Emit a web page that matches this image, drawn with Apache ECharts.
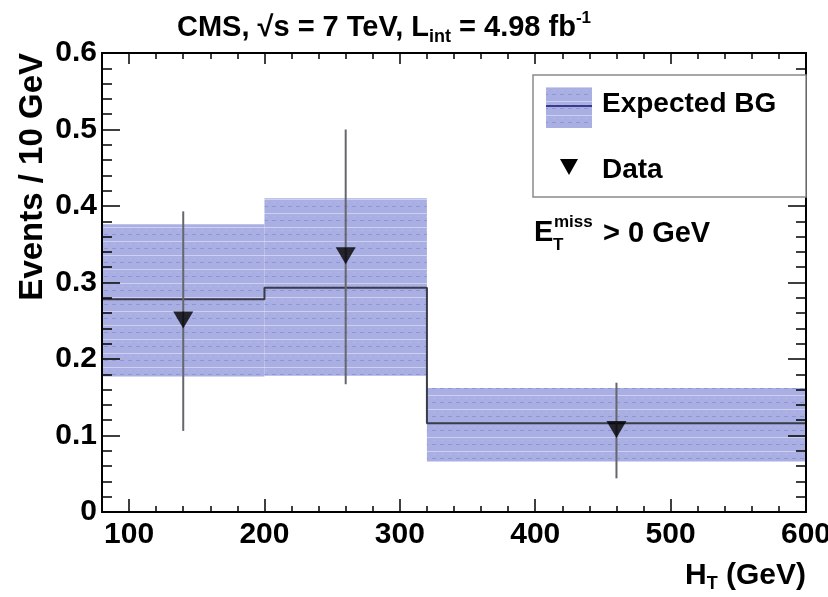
<!DOCTYPE html>
<html>
<head>
<meta charset="utf-8">
<script src="https://cdn.jsdelivr.net/npm/echarts@6/dist/echarts.min.js"></script>
<style>
  html, body { margin: 0; padding: 0; background: #ffffff; }
  #chart { width: 828px; height: 597px; }
</style>
</head>
<body>
<div id="chart"></div>
<script>
// ---- Data ----
const binEdges = [80, 200, 320, 600];
const bgCentral = [0.278, 0.293, 0.116];
const bgUpper = [0.376, 0.410, 0.162];
const bgLower = [0.177, 0.178, 0.066];

const dataX = [140, 260, 460];
const dataY = [0.251, 0.335, 0.108];
const dataErrLow = [0.106, 0.167, 0.044];
const dataErrHigh = [0.393, 0.500, 0.169];

const xTickLabels = [100, 200, 300, 400, 500, 600];
const yTickLabels = [0, 0.1, 0.2, 0.3, 0.4, 0.5, 0.6];

// ---- Styles ----
const FONT = 'Liberation Sans, Arial, Helvetica, sans-serif';

function makePattern() {
  const c = document.createElement('canvas');
  c.width = 8; c.height = 14;
  const g = c.getContext('2d');
  g.fillStyle = '#a9afe2';
  g.fillRect(0, 0, 8, 14);
  g.fillStyle = '#cdd0f0';
  g.fillRect(0, 3, 8, 1);
  g.fillStyle = '#8f96d4';
  g.fillRect(0, 10, 4, 1);
  g.fillStyle = '#bcc0ea';
  g.fillRect(2, 6, 1, 1);
  return c;
}
const patternCanvas = makePattern();
const bandFill = { image: patternCanvas, repeat: 'repeat' };

// ---- Derived series data ----
const bandData = bgCentral.map((c, i) => [binEdges[i], binEdges[i + 1], bgLower[i], bgUpper[i]]);
const centralLine = [];
bgCentral.forEach((c, i) => { centralLine.push([binEdges[i], c]); centralLine.push([binEdges[i + 1], c]); });
const errData = dataX.map((x, i) => [x, dataErrLow[i], dataErrHigh[i]]);
const pointData = dataX.map((x, i) => [x, dataY[i]]);

const axisLineStyle = { color: '#000', width: 2 };
const tickStyle = { color: '#000', width: 1.5 };

function xAxisCfg(position, major, withLabels) {
  return {
    type: 'value', min: 80, max: 600, position: position, z: 10,
    interval: major ? undefined : 20,
    axisLine: { show: true, onZero: false, lineStyle: axisLineStyle },
    axisTick: major
      ? { show: true, inside: true, length: position === 'bottom' ? 13 : 11, customValues: xTickLabels, lineStyle: tickStyle }
      : { show: true, inside: true, length: 6, lineStyle: tickStyle },
    axisLabel: withLabels
      ? { show: true, customValues: xTickLabels, margin: 8, fontFamily: FONT, fontWeight: 'bold', fontSize: 30, color: '#000' }
      : { show: false },
    splitLine: { show: false }
  };
}

const option = {
  animation: false,
  backgroundColor: '#ffffff',
  grid: { left: 102, right: 22, top: 53, bottom: 85, containLabel: false, outerBoundsMode: 'none' },
  xAxis: [
    xAxisCfg('bottom', true, true),
    xAxisCfg('bottom', false, false),
    xAxisCfg('top', true, false),
    xAxisCfg('top', false, false)
  ],
  yAxis: [
    {
      type: 'value', min: 0, max: 0.6, interval: 0.1, position: 'left', z: 10,
      axisLine: { show: true, onZero: false, lineStyle: axisLineStyle },
      axisTick: { show: true, inside: true, length: 18, lineStyle: tickStyle },
      minorTick: { show: true, splitNumber: 5, length: 10, lineStyle: tickStyle },
      axisLabel: {
        show: true, margin: 5, fontFamily: FONT, fontWeight: 'bold', fontSize: 30, color: '#000',
        formatter: v => (v === 0 ? '0' : v.toFixed(1))
      },
      splitLine: { show: false }
    },
    {
      type: 'value', min: 0, max: 0.6, interval: 0.1, position: 'right', z: 10,
      axisLine: { show: true, onZero: false, lineStyle: axisLineStyle },
      axisTick: { show: true, inside: true, length: 18, lineStyle: tickStyle },
      minorTick: { show: true, splitNumber: 5, length: 10, lineStyle: tickStyle },
      axisLabel: { show: false },
      splitLine: { show: false }
    }
  ],
  series: [
    {
      name: 'Expected BG band', type: 'custom', xAxisIndex: 0, yAxisIndex: 0, z: 1,
      data: bandData,
      encode: { x: [0, 1], y: [2, 3] },
      renderItem: function (params, api) {
        const p0 = api.coord([api.value(0), api.value(3)]);
        const p1 = api.coord([api.value(1), api.value(2)]);
        return {
          type: 'rect',
          shape: { x: p0[0], y: p0[1], width: p1[0] - p0[0], height: p1[1] - p0[1] },
          style: { fill: bandFill }
        };
      }
    },
    {
      name: 'Expected BG', type: 'line', xAxisIndex: 0, yAxisIndex: 0, z: 3,
      data: centralLine, showSymbol: false, symbol: 'none',
      lineStyle: { color: '#3a3a4a', width: 2 }
    },
    {
      name: 'Data error', type: 'custom', xAxisIndex: 0, yAxisIndex: 0, z: 4,
      data: errData,
      encode: { x: 0, y: [1, 2] },
      renderItem: function (params, api) {
        const a = api.coord([api.value(0), api.value(1)]);
        const b = api.coord([api.value(0), api.value(2)]);
        return {
          type: 'line',
          shape: { x1: a[0], y1: a[1], x2: b[0], y2: b[1] },
          style: { stroke: '#66666f', lineWidth: 2 }
        };
      }
    },
    {
      name: 'Data', type: 'scatter', xAxisIndex: 0, yAxisIndex: 0, z: 5,
      data: pointData,
      symbol: 'triangle', symbolRotate: 180, symbolSize: [20, 17],
      itemStyle: { color: '#000' }
    }
  ],
  graphic: [
    // Title
    {
      type: 'text', x: 384, y: 28, z: 20,
      style: {
        text: '{a|CMS, √s = 7 TeV, L}{b|int}{a| = 4.98 fb}{c|-1}',
        align: 'center', verticalAlign: 'middle',
        rich: {
          a: { fontFamily: FONT, fontWeight: 'bold', fontSize: 29, lineHeight: 36, fill: '#000' },
          b: { fontFamily: FONT, fontWeight: 'bold', fontSize: 18, lineHeight: 16, verticalAlign: 'bottom', fill: '#000' },
          c: { fontFamily: FONT, fontWeight: 'bold', fontSize: 17, lineHeight: 15, verticalAlign: 'top', fill: '#000' }
        }
      }
    },
    // Y axis title
    {
      type: 'text', x: 33, y: 53, rotation: Math.PI / 2, z: 20,
      style: {
        text: 'Events / 10 GeV', align: 'right', verticalAlign: 'middle',
        fontFamily: FONT, fontWeight: 'bold', fontSize: 33, fill: '#000'
      }
    },
    // X axis title
    {
      type: 'text', x: 806, y: 576, z: 20,
      style: {
        text: '{a|H}{b|T}{a| (GeV)}', align: 'right', verticalAlign: 'middle',
        rich: {
          a: { fontFamily: FONT, fontWeight: 'bold', fontSize: 30, lineHeight: 34, fill: '#000' },
          b: { fontFamily: FONT, fontWeight: 'bold', fontSize: 18, lineHeight: 17, verticalAlign: 'bottom', fill: '#000' }
        }
      }
    },
    // Legend box
    {
      type: 'rect', z: 15,
      shape: { x: 533, y: 75, width: 273, height: 122 },
      style: { fill: '#ffffff', stroke: '#8a8a8a', lineWidth: 1.5 }
    },
    {
      type: 'rect', z: 16,
      shape: { x: 546, y: 87, width: 46, height: 41 },
      style: { fill: bandFill }
    },
    {
      type: 'line', z: 17,
      shape: { x1: 546, y1: 106, x2: 592, y2: 106 },
      style: { stroke: '#3a3a8a', lineWidth: 2 }
    },
    {
      type: 'text', x: 602, y: 104, z: 17,
      style: { text: 'Expected BG', align: 'left', verticalAlign: 'middle', fontFamily: FONT, fontWeight: 'bold', fontSize: 28, fill: '#000' }
    },
    {
      type: 'polygon', z: 17,
      shape: { points: [[560, 159], [578, 159], [569, 175]] },
      style: { fill: '#000' }
    },
    {
      type: 'text', x: 602, y: 170, z: 17,
      style: { text: 'Data', align: 'left', verticalAlign: 'middle', fontFamily: FONT, fontWeight: 'bold', fontSize: 28, fill: '#000' }
    },
    // E_T^miss > 0 GeV
    {
      type: 'text', x: 534, y: 233, z: 17,
      style: { text: 'E', align: 'left', verticalAlign: 'middle', fontFamily: FONT, fontWeight: 'bold', fontSize: 29, fill: '#000' }
    },
    {
      type: 'text', x: 554, y: 222, z: 17,
      style: { text: 'miss', align: 'left', verticalAlign: 'middle', fontFamily: FONT, fontWeight: 'bold', fontSize: 17, fill: '#000' }
    },
    {
      type: 'text', x: 553, y: 245, z: 17,
      style: { text: 'T', align: 'left', verticalAlign: 'middle', fontFamily: FONT, fontWeight: 'bold', fontSize: 17, fill: '#000' }
    },
    {
      type: 'text', x: 603, y: 234, z: 17,
      style: { text: '> 0 GeV', align: 'left', verticalAlign: 'middle', fontFamily: FONT, fontWeight: 'bold', fontSize: 29, fill: '#000' }
    }
  ]
};

const chart = echarts.init(document.getElementById('chart'), null, { renderer: 'canvas' });
chart.setOption(option);
</script>
</body>
</html>
